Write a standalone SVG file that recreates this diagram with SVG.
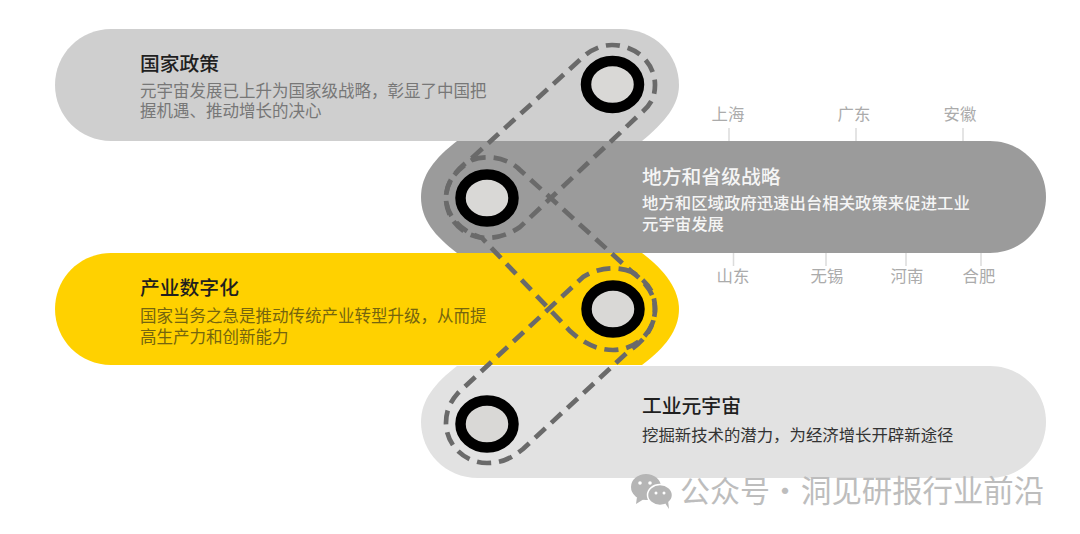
<svg xmlns="http://www.w3.org/2000/svg" width="1080" height="534" viewBox="0 0 1080 534">
<style>
text{font-family:"Noto Sans CJK SC","Liberation Sans",sans-serif}
.t{font-size:19.8px;font-weight:500}
.b{font-size:16.5px}
.s{font-size:16.4px}
.l{font-size:16.4px;fill:#ababab;text-anchor:middle}
.k{stroke:#dcdcdc;stroke-width:1.5;fill:none}
.r{fill:#d9d8d6;stroke:#000;stroke-width:10.5}
.d{fill:none;stroke:#6a6a6a;stroke-width:4.7;stroke-dasharray:14 8}
.w{font-size:30px;fill:#bdbdbd}
</style>
<rect width="1080" height="534" fill="#fff"/>
<g id="node-national">
<path d="M111 29H620C655 29 679 55 679 85C679 105 665 122 642 141H111C80 141 55 116 55 85C55 54 80 29 111 29Z" fill="#cfcfcf"/>
<text class="t" x="140" y="71" fill="#1f1f1f">国家政策</text>
<text class="b" x="140" y="97" fill="#777">元宇宙发展已上升为国家级战略，彰显了中国把</text>
<text class="b" x="140" y="117" fill="#777">握机遇、推动增长的决心</text>
</g>
<g id="node-local">
<path d="M457 141H990C1021 141 1046 166 1046 197C1046 228 1021 253 990 253H457C435 236 421 220 421 197C421 175 435 158 457 141Z" fill="#9b9b9b"/>
<text class="t" x="642" y="184" fill="#f5f5f5">地方和省级战略</text>
<text class="s" x="642" y="209" fill="#f5f5f5" font-weight="500">地方和区域政府迅速出台相关政策来促进工业</text>
<text class="s" x="642" y="230" fill="#f5f5f5" font-weight="500">元宇宙发展</text>
<path class="k" d="M729 128V141M856 128V141M963 128V141M733.500 253V266M826 253V266M906 253V266M981 253V266"/>
<text class="l" x="728" y="120">上海</text>
<text class="l" x="854" y="120">广东</text>
<text class="l" x="960" y="120">安徽</text>
<text class="l" x="733" y="282">山东</text>
<text class="l" x="827" y="282">无锡</text>
<text class="l" x="907" y="282">河南</text>
<text class="l" x="979" y="282">合肥</text>
</g>
<g id="node-digital">
<path d="M111 253H642C665 270 679 290 679 309C679 330 665 348 642 365H111C80 365 55 340 55 309C55 278 80 253 111 253Z" fill="#ffd100"/>
<text class="t" x="140" y="295" fill="#1f1f1f">产业数字化</text>
<text class="b" x="140" y="322" fill="#75650f">国家当务之急是推动传统产业转型升级，从而提</text>
<text class="b" x="140" y="343" fill="#75650f">高生产力和创新能力</text>
</g>
<g id="node-industrial">
<path d="M457 366H990C1021 366 1046 391 1046 422C1046 453 1021 478 990 478H478C445 478 421 452 421 422C421 400 435 383 457 366Z" fill="#e2e2e2"/>
<text class="t" x="642" y="413" fill="#1f1f1f">工业元宇宙</text>
<text class="s" x="642" y="441" fill="#333">挖掘新技术的潜力，为经济增长开辟新途径</text>
</g>
<g id="connectors">
<path class="d" d="M472 158L583 57C592 49 602 45 612 45C636 45 655 63 655 85C655 98 650 106 640 114L520 227C510 234 498 238 487 238C464 238 446 220 446 198C446 182 456 170 472 158Z"/>
<path class="d" d="M472 160C484 155 506 156 520 170L632 272C648 284 655 296 655 309C655 332 636 350 613 350C596 350 582 342 570 331L482 238C462 232 446 216 446 198C446 182 456 170 472 160Z"/>
<path class="d" d="M632 272C620 267 600 266 583 277L458 393C450 402 446 411 446 423C446 445 465 463 487 463C502 463 512 458 523 449L630 350C646 340 655 325 655 309C655 292 648 282 632 272Z"/>
</g>
<g id="node-ring-1"><ellipse class="r" cx="612.500" cy="84.500" rx="26.500" ry="23.500"/></g>
<g id="node-ring-2"><ellipse class="r" cx="487" cy="198" rx="26.500" ry="23.500"/></g>
<g id="node-ring-3"><ellipse class="r" cx="613" cy="309" rx="26.500" ry="23.500"/></g>
<g id="node-ring-4"><ellipse class="r" cx="487" cy="424" rx="26.500" ry="23.500"/></g>
<g id="watermark">
<ellipse cx="646" cy="487" rx="15" ry="13" fill="#b5b5b5"/>
<path d="M637 497L636 504L644 499Z" fill="#b5b5b5"/>
<ellipse cx="660" cy="495" rx="12.500" ry="10.500" fill="#b5b5b5" stroke="#fff" stroke-width="1.500"/>
<path d="M665 503L669 509L668 500Z" fill="#b5b5b5"/>
<circle cx="640" cy="483" r="1.800" fill="#fff"/><circle cx="650" cy="483" r="1.800" fill="#fff"/>
<circle cx="656" cy="493" r="1.500" fill="#fff"/><circle cx="664" cy="493" r="1.500" fill="#fff"/>
<text class="w" x="680" y="502">公众号</text>
<text class="w" x="770" y="502">·</text>
<text class="w" x="801" y="502" style="font-size:30.4px">洞见研报行业前沿</text>
</g>
</svg>
